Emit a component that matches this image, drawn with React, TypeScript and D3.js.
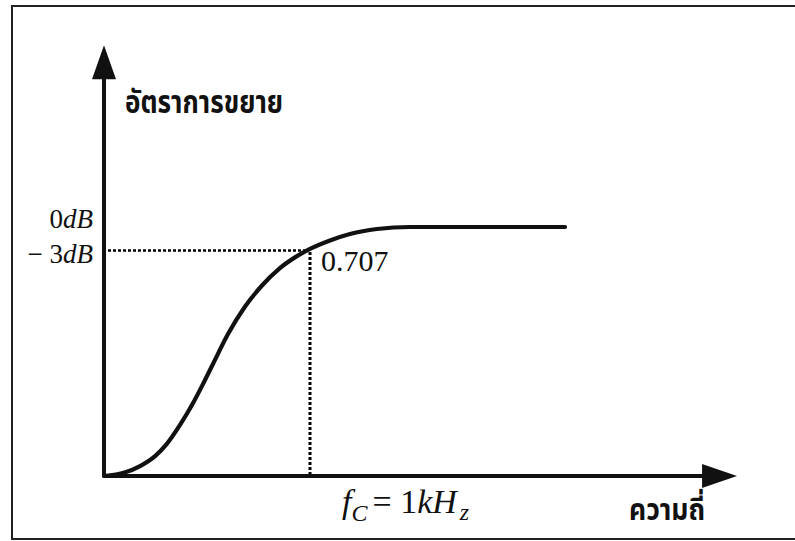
import React from "react";
import * as d3 from "d3";

// relative frequency (f / fc) and relative gain level (0dB level = 1)
const freq = [0, 0.1, 0.175, 0.248, 0.306, 0.369, 0.427, 0.481, 0.529, 0.602, 0.684, 0.767, 0.854, 0.927, 1.0, 1.097, 1.194, 1.325, 1.485, 2.238];
const gain = [0, 0.014, 0.04, 0.08, 0.13, 0.205, 0.285, 0.37, 0.45, 0.57, 0.68, 0.765, 0.835, 0.878, 0.912, 0.946, 0.972, 0.992, 1.0, 1.0];
const cutoffFreq = 1.0;
const cutoffGain = 0.912;
const zeroDbGain = 1.0;
const xAxisMax = 3.073;
const yAxisMax = 1.73;

const yTitle = "อัตราการขยาย";
const xTitle = "ความถี่";
const cutoffValueLabel = "0.707";

const W = 795;
const H = 541;
const ox = 104;
const oy = 476;

const serif = "'Liberation Serif', 'Times New Roman', serif";
const thai = "'Noto Sans Thai', 'Noto Sans Thai UI', 'Loma', 'Garuda', 'Noto Sans', sans-serif";

export default function App() {
  const x = d3.scaleLinear().domain([0, 1]).range([ox, ox + 206]);
  const y = d3.scaleLinear().domain([0, 1]).range([oy, oy - 249]);
  const pts: [number, number][] = freq.map((f, i) => [x(f), y(gain[i])]);
  const line = d3.line().curve(d3.curveMonotoneX)(pts) || "";

  const xEnd = x(xAxisMax);
  const yEnd = y(yAxisMax);
  const fcX = x(cutoffFreq);
  const g3Y = y(cutoffGain);

  return (
    <svg width={W} height={H} style={{ position: "absolute", left: 0, top: 0, background: "#fff" }}>
      {/* frame */}
      <path d={`M795,6 L12,6 L12,539 L795,539`} fill="none" stroke="#222" strokeWidth={2} />
      {/* dotted guides */}
      <line x1={108} y1={g3Y + 1.5} x2={fcX - 3} y2={g3Y + 1.5} stroke="#000" strokeWidth={2.5} strokeDasharray="3,2" />
      <line x1={fcX} y1={g3Y + 3} x2={fcX} y2={oy} stroke="#000" strokeWidth={3} strokeDasharray="3,2" />
      {/* axes */}
      <line x1={ox} y1={oy} x2={ox} y2={yEnd + 30} stroke="#111" strokeWidth={4} />
      <line x1={ox} y1={oy} x2={xEnd - 30} y2={oy} stroke="#111" strokeWidth={4} />
      <path d={`M${ox},${yEnd} L${ox - 12},${yEnd + 34} L${ox + 12},${yEnd + 34} Z`} fill="#111" />
      <path d={`M${xEnd},${oy} L${xEnd - 35},${oy - 12} L${xEnd - 35},${oy + 12} Z`} fill="#111" />
      {/* curve */}
      <path d={line} fill="none" stroke="#111" strokeWidth={4.2} strokeLinecap="round" />
      {/* y labels */}
      <text x={93} y={y(zeroDbGain) + 1} textAnchor="end" fontFamily={serif} fontSize={27} fill="#111">
        0<tspan fontStyle="italic">dB</tspan>
      </text>
      <text x={93} y={g3Y + 14} textAnchor="end" fontFamily={serif} fontSize={27} fill="#111">
        − 3<tspan fontStyle="italic">dB</tspan>
      </text>
      <text x={fcX + 11} y={g3Y + 22} fontFamily={serif} fontSize={30} fill="#111">{cutoffValueLabel}</text>
      {/* fc label */}
      <text x={342} y={513} fontFamily={serif} fontSize={34} fill="#111">
        <tspan fontStyle="italic">f</tspan>
        <tspan fontStyle="italic" fontSize={24} dy={8}>C</tspan>
        <tspan dy={-8} dx={5}>= 1</tspan>
        <tspan fontStyle="italic">kH</tspan>
        <tspan fontStyle="italic" fontSize={24} dy={7} dx={3}>z</tspan>
      </text>
      {/* titles */}
      <text x={125} y={113} fontFamily={thai} fontWeight="bold" fontSize={31} fill="#111" textLength={158} lengthAdjust="spacingAndGlyphs">{yTitle}</text>
      <text x={629} y={520} fontFamily={thai} fontWeight="bold" fontSize={30} fill="#111" textLength={76} lengthAdjust="spacingAndGlyphs">{xTitle}</text>
    </svg>
  );
}
